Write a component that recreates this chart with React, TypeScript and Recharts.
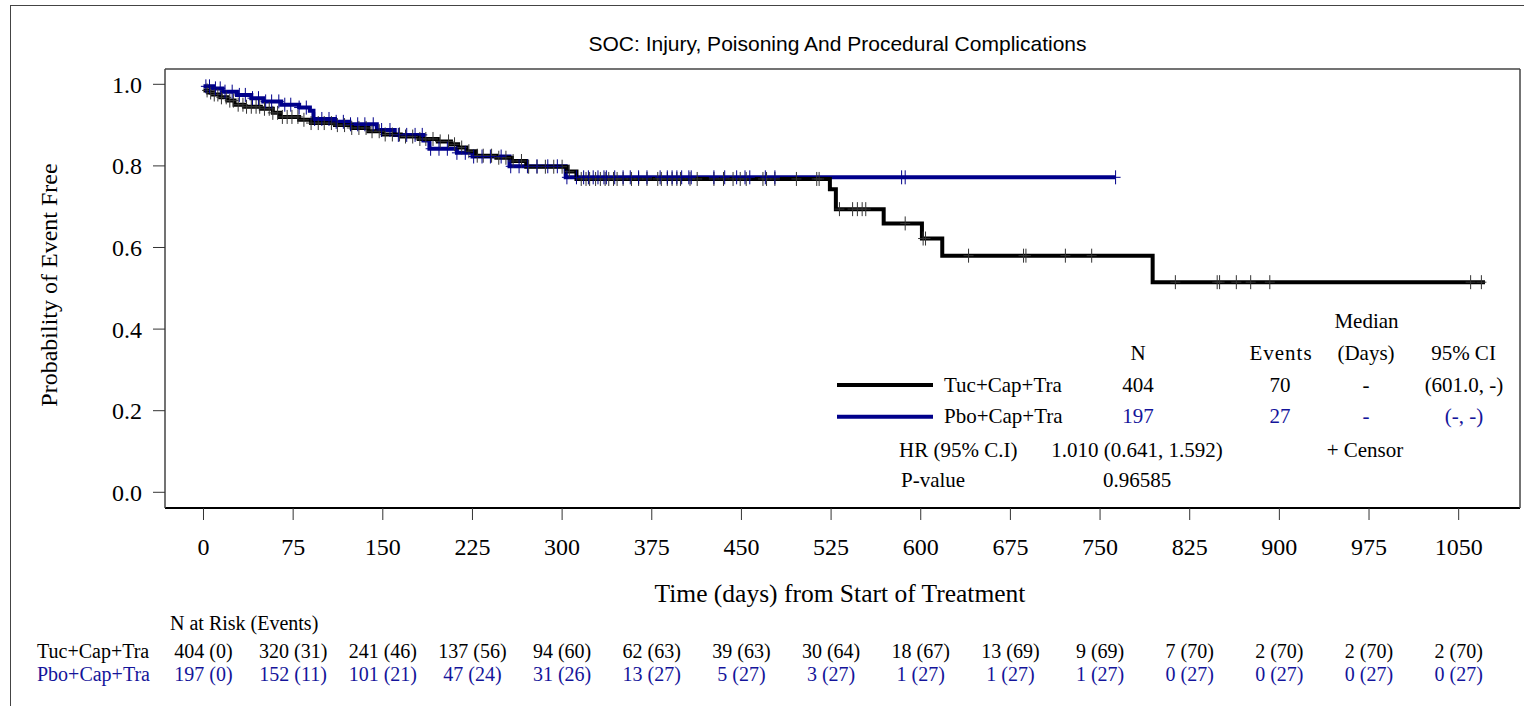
import React from "react"
import { ComposedChart, Line, Scatter, XAxis, YAxis } from "recharts"

// axis ticks
const xTicks = [0, 75, 150, 225, 300, 375, 450, 525, 600, 675, 750, 825, 900, 975, 1050]
const yTicks = [0, 0.2, 0.4, 0.6, 0.8, 1.0]

// number at risk (events) under each x tick
const riskTuc = ["404 (0)", "320 (31)", "241 (46)", "137 (56)", "94 (60)", "62 (63)", "39 (63)", "30 (64)", "18 (67)", "13 (69)", "9 (69)", "7 (70)", "2 (70)", "2 (70)", "2 (70)"]
const riskPbo = ["197 (0)", "152 (11)", "101 (21)", "47 (24)", "31 (26)", "13 (27)", "5 (27)", "3 (27)", "1 (27)", "1 (27)", "1 (27)", "0 (27)", "0 (27)", "0 (27)", "0 (27)"]

// KM step points [day, survival]
const tucSteps: [number, number][] = [
  [0, 0.985], [4, 0.98], [8, 0.975], [14, 0.968], [20, 0.96], [26, 0.95], [34, 0.945], [48, 0.94],
  [58, 0.93], [64, 0.92], [80, 0.913], [90, 0.905], [110, 0.9], [124, 0.893], [138, 0.885], [150, 0.877],
  [165, 0.872], [180, 0.866], [196, 0.86], [207, 0.853], [213, 0.845], [220, 0.836], [228, 0.825],
  [245, 0.82], [258, 0.812], [270, 0.798], [304, 0.786], [312, 0.768], [524, 0.743], [529, 0.694],
  [569, 0.659], [601, 0.622], [618, 0.58], [794, 0.515], [1072, 0.515],
]
const pboSteps: [number, number][] = [
  [0, 0.995], [8, 0.99], [16, 0.982], [28, 0.974], [40, 0.966], [50, 0.958], [65, 0.95], [80, 0.943],
  [89, 0.935], [92, 0.915], [110, 0.908], [122, 0.902], [145, 0.888], [160, 0.876], [184, 0.862],
  [189, 0.842], [212, 0.832], [225, 0.823], [256, 0.799], [303, 0.772], [763, 0.772],
]

// censoring times (days)
const tucCensor = [
  3, 6, 9, 12, 15, 19, 22, 25, 29, 33, 36, 40, 44, 47, 51, 55, 58, 62, 66, 70, 74, 79, 84, 90, 96, 101,
  107, 112, 118, 124, 130, 136, 141, 147, 152, 158, 164, 169, 175, 181, 186, 192, 198, 205, 210, 216,
  222, 229, 234, 241, 247, 253, 259, 266, 272, 279, 286, 293, 300, 306, 316, 320, 323, 328, 332, 336,
  339, 343, 346, 351, 358, 364, 371, 380, 383, 388, 392, 396, 399, 407, 413, 427, 435, 443, 449, 454,
  468, 471, 478, 496, 513, 515, 532, 543, 547, 551, 554, 587, 602, 604, 640, 686, 688, 721, 743, 813,
  848, 850, 864, 876, 892, 1060, 1069,
]
const pboCensor = [
  2, 5, 10, 14, 18, 24, 30, 35, 41, 46, 52, 57, 63, 68, 73, 80, 86, 93, 99, 105, 111, 117, 123, 129,
  135, 142, 149, 156, 163, 170, 177, 183, 190, 197, 204, 212, 219, 226, 233, 240, 249, 257, 264, 271,
  279, 288, 296, 304, 312, 318, 322, 326, 330, 335, 337, 344, 351, 357, 364, 371, 382, 388, 392, 396,
  400, 406, 408, 427, 436, 446, 453, 457, 470, 478, 584, 587, 763,
]

const BLUE = "#00008B"
const BLUE_TEXT = "#14149A"
const SERIF = "'Liberation Serif', 'Times New Roman', serif"
const SANS = "'Liberation Sans', Arial, sans-serif"
const X_DOMAIN: [number, number] = [-32.2, 1101.3]

const toRows = (steps: [number, number][]) => steps.map(([t, s]) => ({ t, s }))

const survivalAt = (steps: [number, number][], t: number) => {
  let s = steps[0][1]
  for (const [st, sv] of steps) if (st <= t) s = sv
  return s
}

const censorRows = (times: number[], steps: [number, number][]) =>
  times.map((t) => ({ t, s: survivalAt(steps, t) }))

const CensorMark = (color: string) => (props: any) => {
  const { cx, cy } = props
  if (cx == null || cy == null) return <g />
  return (
    <path
      d={`M${cx - 5},${cy} H${cx + 5} M${cx},${cy - 7} V${cy + 7}`}
      stroke={color}
      strokeWidth={1}
      fill="none"
    />
  )
}

export default function App() {
  const txt = { fontFamily: SERIF, fontSize: 21 }
  return (
    <div style={{ position: "absolute", left: 0, top: 0, width: 1524, height: 706, overflow: "hidden", background: "#fff" }}>
      <ComposedChart width={1524} height={706} margin={{ top: 68, right: 3, bottom: 195, left: 164 }}>
        <XAxis
          xAxisId="main"
          dataKey="t"
          type="number"
          domain={X_DOMAIN}
          allowDataOverflow
          ticks={xTicks}
          height={1}
          tickSize={12}
          tickMargin={18}
          axisLine={{ stroke: "#000", strokeWidth: 2 }}
          tickLine={{ stroke: "#333" }}
          tick={{ fill: "#000", fontFamily: SERIF, fontSize: 24 }}
        />
        <XAxis
          xAxisId="risk1"
          dataKey="t"
          type="number"
          domain={X_DOMAIN}
          allowDataOverflow
          ticks={xTicks}
          height={1}
          tickSize={0}
          tickMargin={135}
          axisLine={false}
          tickLine={false}
          tickFormatter={(_v: number, i: number) => riskTuc[i]}
          tick={{ fill: "#000", fontFamily: SERIF, fontSize: 20 }}
        />
        <XAxis
          xAxisId="risk2"
          dataKey="t"
          type="number"
          domain={X_DOMAIN}
          allowDataOverflow
          ticks={xTicks}
          height={1}
          tickSize={0}
          tickMargin={157}
          axisLine={false}
          tickLine={false}
          tickFormatter={(_v: number, i: number) => riskPbo[i]}
          tick={{ fill: BLUE_TEXT, fontFamily: SERIF, fontSize: 20 }}
        />
        <XAxis
          xAxisId="top"
          orientation="top"
          type="number"
          domain={X_DOMAIN}
          height={1}
          tick={false}
          tickLine={false}
          axisLine={{ stroke: "#444", strokeWidth: 1.5 }}
        />
        <YAxis
          yAxisId="main"
          type="number"
          domain={[-0.0385, 1.0375]}
          allowDataOverflow
          ticks={yTicks}
          width={1}
          tickSize={12}
          tickMargin={11}
          axisLine={{ stroke: "#444", strokeWidth: 1.5 }}
          tickLine={{ stroke: "#333" }}
          tickFormatter={(v: number) => v.toFixed(1)}
          tick={{ fill: "#000", fontFamily: SERIF, fontSize: 24 }}
        />
        <YAxis
          yAxisId="right"
          orientation="right"
          type="number"
          domain={[0, 1]}
          width={1}
          tick={false}
          tickLine={false}
          axisLine={{ stroke: "#444", strokeWidth: 1.5 }}
        />
        <Scatter
          xAxisId="main"
          yAxisId="main"
          data={censorRows(tucCensor, tucSteps)}
          dataKey="s"
          shape={CensorMark("#333")}
          isAnimationActive={false}
        />
        <Scatter
          xAxisId="main"
          yAxisId="main"
          data={censorRows(pboCensor, pboSteps)}
          dataKey="s"
          shape={CensorMark(BLUE)}
          isAnimationActive={false}
        />
        <Line
          xAxisId="main"
          yAxisId="main"
          data={toRows(pboSteps)}
          dataKey="s"
          type="stepAfter"
          stroke={BLUE}
          strokeWidth={4}
          dot={false}
          isAnimationActive={false}
        />
        <Line
          xAxisId="main"
          yAxisId="main"
          data={toRows(tucSteps)}
          dataKey="s"
          type="stepAfter"
          stroke="#000"
          strokeWidth={4}
          dot={false}
          isAnimationActive={false}
        />
      </ComposedChart>

      <svg width={1524} height={706} style={{ position: "absolute", left: 0, top: 0, pointerEvents: "none" }}>
        <rect x={10.5} y={5.5} width={1600} height={800} fill="none" stroke="#444" strokeWidth={1} />
        <text x={837.5} y={50.5} textAnchor="middle" fontFamily={SANS} fontSize={21} fill="#000">
          SOC: Injury, Poisoning And Procedural Complications
        </text>
        <text transform="translate(57,285) rotate(-90)" textAnchor="middle" fontFamily={SERIF} fontSize={24} fill="#000">
          Probability of Event Free
        </text>
        <text x={840} y={602} textAnchor="middle" fontFamily={SERIF} fontSize={25.5} fill="#000">
          Time (days) from Start of Treatment
        </text>

        {/* legend table */}
        <g style={txt} fill="#000" textAnchor="middle">
          <text x={1366.5} y={328}>Median</text>
          <text x={1138} y={360}>N</text>
          <text x={1281} y={360} letterSpacing={1}>Events</text>
          <text x={1366} y={360}>(Days)</text>
          <text x={1463.5} y={360}>95% CI</text>
          <text x={1138} y={391.7}>404</text>
          <text x={1280} y={391.7}>70</text>
          <text x={1366} y={391.7}>-</text>
          <text x={1464} y={391.7}>(601.0, -)</text>
          <g fill={BLUE_TEXT}>
            <text x={1138} y={423.3}>197</text>
            <text x={1280} y={423.3}>27</text>
            <text x={1366} y={423.3}>-</text>
            <text x={1464} y={423.3}>(-, -)</text>
          </g>
          <text x={1137} y={456.7}>1.010 (0.641, 1.592)</text>
          <text x={1365} y={456.7}>+ Censor</text>
          <text x={1137} y={487.3}>0.96585</text>
        </g>
        <g style={txt} fill="#000">
          <text x={944} y={391.7}>Tuc+Cap+Tra</text>
          <text x={944} y={423.3}>Pbo+Cap+Tra</text>
          <text x={899} y={456.7}>HR (95% C.I)</text>
          <text x={901} y={487.3}>P-value</text>
        </g>
        <line x1={837} x2={933} y1={385} y2={385} stroke="#000" strokeWidth={4} />
        <line x1={837} x2={933} y1={416.7} y2={416.7} stroke={BLUE} strokeWidth={4} />

        {/* risk table labels */}
        <g fontFamily={SERIF} fontSize={20}>
          <text x={170} y={630} fill="#000">N at Risk (Events)</text>
          <text x={37} y={658} fill="#000">Tuc+Cap+Tra</text>
          <text x={37} y={681} fill={BLUE_TEXT}>Pbo+Cap+Tra</text>
        </g>
      </svg>
    </div>
  )
}
